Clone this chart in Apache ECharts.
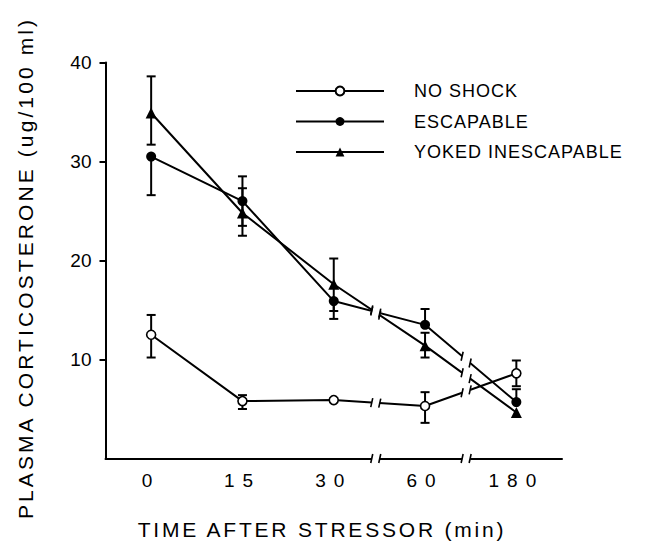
<!DOCTYPE html>
<html>
<head>
<meta charset="utf-8">
<script src="https://cdn.jsdelivr.net/npm/echarts@6/dist/echarts.min.js"></script>
<style>
html,body{margin:0;padding:0;background:#fff;}
#chart{width:648px;height:546px;}
</style>
</head>
<body>
<div id="chart"></div>
<script>
const categories = ['0', '15', '30', '60', '180'];
const yTicks = [10, 20, 30, 40];
const seriesNames = ['NO SHOCK', 'ESCAPABLE', 'YOKED INESCAPABLE'];

const noShock = [12.5, 5.8, 5.9, 5.3, 8.6];
const noShockErrUp = [2.0, 0.6, 0, 1.4, 1.3];
const noShockErrDown = [2.3, 0.8, 0, 1.7, 1.3];

const escapable = [30.5, 26.0, 15.9, 13.5, 5.7];
const escapableErrUp = [0, 2.5, 0, 1.6, 1.3];
const escapableErrDown = [3.9, 2.5, 1.8, 0, 0];

const yoked = [34.9, 24.8, 17.6, 11.4, 4.65];
const yokedErrUp = [3.7, 2.5, 2.6, 1.3, 0];
const yokedErrDown = [3.2, 2.3, 2.7, 1.2, 0];

// positions (in category index units) of the scale breaks
const breakAt = [2.46, 3.45];

const xTitle = 'TIME AFTER STRESSOR (min)';
const yTitle = 'PLASMA CORTICOSTERONE (ug/100 ml)';

const FONT = '"Liberation Sans", Arial, Helvetica, sans-serif';

function errData(vals, up, dn) {
  return vals.map((v, i) => [i, v, up[i], dn[i]]);
}

function errRender(params, api) {
  const i = api.value(0), v = api.value(1), up = api.value(2), dn = api.value(3);
  if (!(up > 0) && !(dn > 0)) return null;
  const top = api.coord([i, v + up]);
  const bot = api.coord([i, v - dn]);
  const capW = 4.5;
  const st = { stroke: '#000', lineWidth: 2 };
  const children = [{ type: 'line', shape: { x1: top[0], y1: top[1], x2: bot[0], y2: bot[1] }, style: st }];
  if (up > 0) children.push({ type: 'line', shape: { x1: top[0] - capW, y1: top[1], x2: top[0] + capW, y2: top[1] }, style: st });
  if (dn > 0) children.push({ type: 'line', shape: { x1: bot[0] - capW, y1: bot[1], x2: bot[0] + capW, y2: bot[1] }, style: st });
  return { type: 'group', children };
}

function breakRender(params, api) {
  const overlays = [], ticks = [];
  const half = 4, tickH = 4.5;
  breakAt.forEach(b => {
    const i0 = Math.floor(b), f = b - i0;
    const segs = [noShock, escapable, yoked].map(arr => [api.coord([i0, arr[i0]]), api.coord([i0 + 1, arr[i0 + 1]])]);
    segs.push([api.coord([i0, 0]), api.coord([i0 + 1, 0])]);
    segs.forEach(([p0, p1]) => {
      const dx = p1[0] - p0[0], dy = p1[1] - p0[1];
      const len = Math.hypot(dx, dy);
      const ux = dx / len, uy = dy / len;
      const c = [p0[0] + dx * f, p0[1] + dy * f];
      const s = half / ux;
      const a = [c[0] - ux * s, c[1] - uy * s];
      const e = [c[0] + ux * s, c[1] + uy * s];
      overlays.push({ type: 'line', shape: { x1: a[0], y1: a[1], x2: e[0], y2: e[1] }, style: { stroke: '#fff', lineWidth: 5 } });
      [a, e].forEach(pt => ticks.push({ type: 'line', shape: { x1: pt[0] - 1, y1: pt[1] + tickH, x2: pt[0] + 1, y2: pt[1] - tickH }, style: { stroke: '#000', lineWidth: 1.6 } }));
    });
  });
  return { type: 'group', children: overlays.concat(ticks) };
}

const chart = echarts.init(document.getElementById('chart'), null, { renderer: 'svg', width: 648, height: 546 });

const lineCommon = {
  type: 'line',
  z: 3,
  lineStyle: { color: '#000', width: 2 },
  emphasis: { disabled: true },
  animation: false
};

chart.setOption({
  animation: false,
  backgroundColor: '#fff',
  textStyle: { fontFamily: FONT, color: '#000' },
  grid: { left: 105.5, right: 86, top: 62.5, bottom: 87.5, containLabel: false },
  legend: {
    data: seriesNames,
    orient: 'vertical',
    left: 295,
    top: 82,
    padding: 0,
    itemWidth: 88,
    itemHeight: 11,
    itemGap: 12.5,
    selectedMode: false,
    textStyle: { fontFamily: FONT, fontSize: 18, color: '#000', padding: [0, 0, 0, 25] }
  },
  xAxis: {
    type: 'category',
    data: categories,
    boundaryGap: true,
    axisLine: { lineStyle: { color: '#000', width: 2 } },
    axisTick: { alignWithLabel: true, length: 8, lineStyle: { color: '#000', width: 2 } },
    axisLabel: { fontFamily: FONT, fontSize: 19, color: '#000', margin: 12 },
    splitLine: { show: false }
  },
  yAxis: {
    type: 'value',
    min: 0,
    max: 40,
    interval: 10,
    axisLine: { show: true, lineStyle: { color: '#000', width: 2 } },
    axisTick: { show: true, length: 6, customValues: yTicks, lineStyle: { color: '#000', width: 2 } },
    axisLabel: { fontFamily: FONT, fontSize: 19, color: '#000', margin: 14, customValues: yTicks },
    splitLine: { show: false }
  },
  graphic: [
    { type: 'text', x: 25.5, y: 268, rotation: Math.PI / 2,
      style: { text: yTitle, font: '21px ' + FONT, fill: '#000', align: 'center', verticalAlign: 'middle' } },
    { type: 'text', x: 322, y: 529,
      style: { text: xTitle, font: '21px ' + FONT, fill: '#000', align: 'center', verticalAlign: 'middle' } }
  ],
  series: [
    { type: 'custom', name: 'err-noshock', z: 2, renderItem: errRender, data: errData(noShock, noShockErrUp, noShockErrDown), encode: { x: 0, y: 1 }, silent: true },
    { type: 'custom', name: 'err-escapable', z: 2, renderItem: errRender, data: errData(escapable, escapableErrUp, escapableErrDown), encode: { x: 0, y: 1 }, silent: true },
    { type: 'custom', name: 'err-yoked', z: 2, renderItem: errRender, data: errData(yoked, yokedErrUp, yokedErrDown), encode: { x: 0, y: 1 }, silent: true },
    Object.assign({}, lineCommon, {
      name: seriesNames[0], data: noShock, symbol: 'circle', symbolSize: 9,
      itemStyle: { color: '#fff', borderColor: '#000', borderWidth: 1.6 }
    }),
    Object.assign({}, lineCommon, {
      name: seriesNames[1], data: escapable, symbol: 'circle', symbolSize: 10,
      itemStyle: { color: '#000', borderColor: '#000', borderWidth: 0 }
    }),
    Object.assign({}, lineCommon, {
      name: seriesNames[2], data: yoked, symbol: 'triangle', symbolSize: 11,
      itemStyle: { color: '#000', borderColor: '#000', borderWidth: 0 }
    }),
    { type: 'custom', name: 'breaks', z: 10, renderItem: breakRender, data: [[0, 0]], encode: { x: 0, y: 1 }, silent: true }
  ]
});

// letter spacing tweaks on the rendered SVG texts
function spaceText(match, ls) {
  chart.getDom().querySelectorAll('text').forEach(t => {
    if (match(t.textContent, t)) t.setAttribute('letter-spacing', ls);
  });
}
spaceText((s, t) => categories.includes(s) && t.getBoundingClientRect().top > 460, 8);
spaceText(s => s === xTitle, 2.8);
spaceText(s => s === yTitle, 3.1);
spaceText(s => seriesNames.includes(s), 1);
</script>
</body>
</html>
